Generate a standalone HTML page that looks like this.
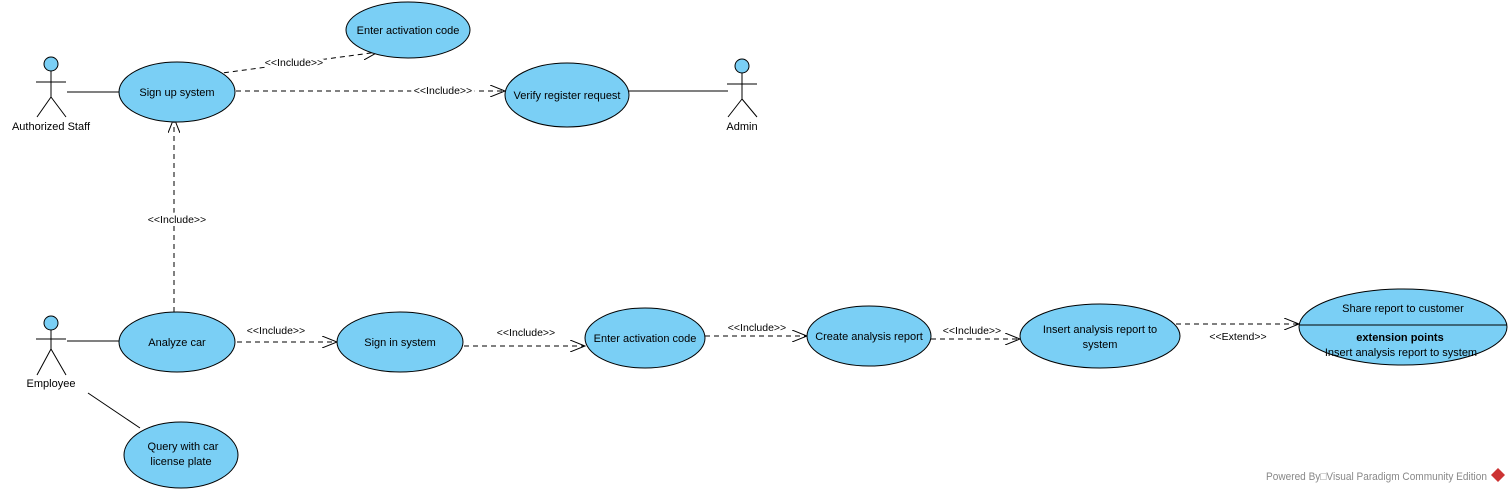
<!DOCTYPE html>
<html><head><style>body{margin:0;background:#fff}svg{display:block}text{font-family:"Liberation Sans",Arial,sans-serif;font-size:11px;fill:#000}.l{font-size:10.5px;stroke:#fff;stroke-width:6px;paint-order:stroke;stroke-linejoin:round}</style></head>
<body>
<svg width="1510" height="493" viewBox="0 0 1510 493">
<defs><marker id="a" markerWidth="16" markerHeight="12" refX="15" refY="6" orient="auto" markerUnits="userSpaceOnUse"><path d="M0,0 L15,6 L0,12" fill="none" stroke="#000"/></marker></defs>
<g stroke="#000" fill="none">
<circle cx="51" cy="64" r="7" fill="#7acff5"/><path d="M51,71V97M36,82H66M51,97L37,117M51,97L66,117"/>
<circle cx="742" cy="66" r="7" fill="#7acff5"/><path d="M742,73V99M727,84H757M742,99L728,117M742,99L757,117"/>
<circle cx="51" cy="323" r="7" fill="#7acff5"/><path d="M51,330V349M36,339H66M51,349L37,375M51,349L66,375"/>
<path d="M67,92H119M629,91H728M67,341H119M88,393L140,428"/>
<g stroke-dasharray="5,4">
<path d="M215,74L378,52" marker-end="url(#a)"/>
<path d="M236,91H505" marker-end="url(#a)"/>
<path d="M174,312V118" marker-end="url(#a)"/>
<path d="M237,342H337" marker-end="url(#a)"/>
<path d="M464,346H585" marker-end="url(#a)"/>
<path d="M705,336H807" marker-end="url(#a)"/>
<path d="M931,339H1020" marker-end="url(#a)"/>
<path d="M1176,324H1299" marker-end="url(#a)"/>
</g>
<g fill="#7acff5">
<ellipse cx="177" cy="92" rx="58" ry="30"/>
<ellipse cx="408" cy="30" rx="62" ry="28"/>
<ellipse cx="567" cy="95" rx="62" ry="32"/>
<ellipse cx="177" cy="342" rx="58" ry="30"/>
<ellipse cx="400" cy="342" rx="63" ry="30"/>
<ellipse cx="645" cy="338" rx="60" ry="30"/>
<ellipse cx="869" cy="336" rx="62" ry="30"/>
<ellipse cx="1100" cy="336" rx="80" ry="32"/>
<ellipse cx="1403" cy="327" rx="104" ry="38"/>
<ellipse cx="181" cy="455" rx="57" ry="33"/>
</g>
<path d="M1299,325H1507"/>
</g>
<g text-anchor="middle">
<text x="51" y="130">Authorized Staff</text>
<text x="742" y="130">Admin</text>
<text x="51" y="387">Employee</text>
<text x="177" y="96">Sign up system</text>
<text x="408" y="34">Enter activation code</text>
<text x="567" y="99">Verify register request</text>
<text x="177" y="346">Analyze car</text>
<text x="400" y="346">Sign in system</text>
<text x="645" y="342">Enter activation code</text>
<text x="869" y="340">Create analysis report</text>
<text x="1100" y="333">Insert analysis report to</text>
<text x="1100" y="348">system</text>
<text x="1403" y="312">Share report to customer</text>
<text x="1400" y="341" font-weight="bold">extension points</text>
<text x="1401" y="356">Insert analysis report to system</text>
<text x="183" y="450">Query with car</text>
<text x="181" y="465">license plate</text>
<text class="l" x="294" y="66">&lt;&lt;Include&gt;&gt;</text>
<text class="l" x="443" y="94">&lt;&lt;Include&gt;&gt;</text>
<text class="l" x="177" y="223">&lt;&lt;Include&gt;&gt;</text>
<text class="l" x="276" y="334">&lt;&lt;Include&gt;&gt;</text>
<text class="l" x="526" y="336">&lt;&lt;Include&gt;&gt;</text>
<text class="l" x="757" y="331">&lt;&lt;Include&gt;&gt;</text>
<text class="l" x="972" y="334">&lt;&lt;Include&gt;&gt;</text>
<text class="l" x="1238" y="340">&lt;&lt;Extend&gt;&gt;</text>
</g>
<text x="1266" y="480" font-size="10" textLength="221" lengthAdjust="spacingAndGlyphs" style="fill:#888">Powered By□Visual Paradigm Community Edition</text>
<path d="M1498,468L1505,475L1498,482L1491,475Z" fill="#c33"/>
</svg>
</body></html>
